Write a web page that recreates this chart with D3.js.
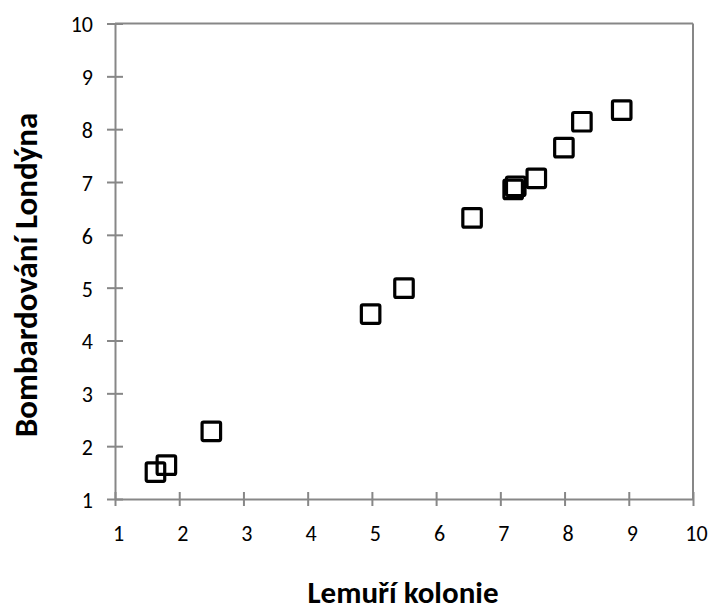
<!DOCTYPE html>
<html>
<head>
<meta charset="utf-8">
<script src="https://cdn.jsdelivr.net/npm/d3@7"></script>
<style>
  html, body { margin: 0; padding: 0; background: #fff; }
  svg { display: block; }
  text { font-family: Carlito, Lato, "Open Sans", sans-serif; fill: #000; }
</style>
</head>
<body>
<svg id="chart" width="711" height="610"></svg>
<script>
// Data
const xValues = [1.63, 1.80, 2.50, 4.98, 5.50, 6.56, 7.20, 7.24, 7.56, 7.99, 8.27, 8.89];
const yValues = [1.51, 1.64, 2.28, 4.50, 4.99, 6.32, 6.86, 6.92, 7.07, 7.65, 8.14, 8.36];
const xTicks = [1, 2, 3, 4, 5, 6, 7, 8, 9, 10];
const yTicks = [1, 2, 3, 4, 5, 6, 7, 8, 9, 10];
const xTitle = "Lemuří kolonie";
const yTitle = "Bombardování Londýna";

const svg = d3.select("#chart");
const plot = { left: 115, right: 693, top: 23.5, bottom: 499 };
const axisColor = "#878787";

const x = d3.scaleLinear().domain([1, 10]).range([plot.left, plot.right]);
const y = d3.scaleLinear().domain([1, 10]).range([plot.bottom, plot.top]);

// Plot-area border (top and right)
svg.append("line")
  .attr("x1", plot.left).attr("x2", plot.right)
  .attr("y1", plot.top).attr("y2", plot.top)
  .attr("stroke", axisColor).attr("stroke-width", 2);
svg.append("line")
  .attr("x1", plot.right).attr("x2", plot.right)
  .attr("y1", plot.top).attr("y2", plot.bottom)
  .attr("stroke", axisColor).attr("stroke-width", 2);

// X axis
const xAxis = d3.axisBottom(x).tickValues(xTicks).tickFormat(d3.format("d"))
  .tickSizeInner(7).tickSizeOuter(0).tickPadding(19);
const gx = svg.append("g").attr("transform", `translate(0,${plot.bottom})`).call(xAxis);
gx.select(".domain").attr("stroke", axisColor).attr("stroke-width", 2);
gx.selectAll(".tick line").attr("stroke", axisColor).attr("stroke-width", 2)
  .attr("y1", -7).attr("y2", 7);
gx.selectAll(".tick text").attr("font-size", 22).attr("font-family", "Carlito, Lato, sans-serif")
  .attr("fill", "#000").attr("dx", 3);

// Y axis
const yAxis = d3.axisLeft(y).tickValues(yTicks).tickFormat(d3.format("d"))
  .tickSizeInner(8).tickSizeOuter(0).tickPadding(14);
const gy = svg.append("g").attr("transform", `translate(${plot.left},0)`).call(yAxis);
gy.select(".domain").attr("stroke", axisColor).attr("stroke-width", 2);
gy.selectAll(".tick line").attr("stroke", axisColor).attr("stroke-width", 2)
  .attr("x1", -8).attr("x2", 8);
gy.selectAll(".tick text").attr("font-size", 22).attr("font-family", "Carlito, Lato, sans-serif")
  .attr("fill", "#000").attr("dy", "0.38em");

// Markers
const side = 18.5;
svg.append("g").selectAll("rect")
  .data(xValues.map((v, i) => ({ x: v, y: yValues[i] })))
  .join("rect")
  .attr("x", d => x(d.x) - side / 2)
  .attr("y", d => y(d.y) - side / 2)
  .attr("width", side).attr("height", side)
  .attr("rx", 1.5)
  .attr("fill", "none")
  .attr("stroke", "#000")
  .attr("stroke-width", 3.2);

// Axis titles
svg.append("text")
  .attr("x", (plot.left + plot.right) / 2 - 1)
  .attr("y", 603)
  .attr("text-anchor", "middle")
  .attr("font-size", 31).attr("font-weight", "bold")
  .text(xTitle);

svg.append("text")
  .attr("transform", `translate(37,275) rotate(-90)`)
  .attr("text-anchor", "middle")
  .attr("font-size", 33).attr("font-weight", "bold")
  .text(yTitle);
</script>
</body>
</html>
